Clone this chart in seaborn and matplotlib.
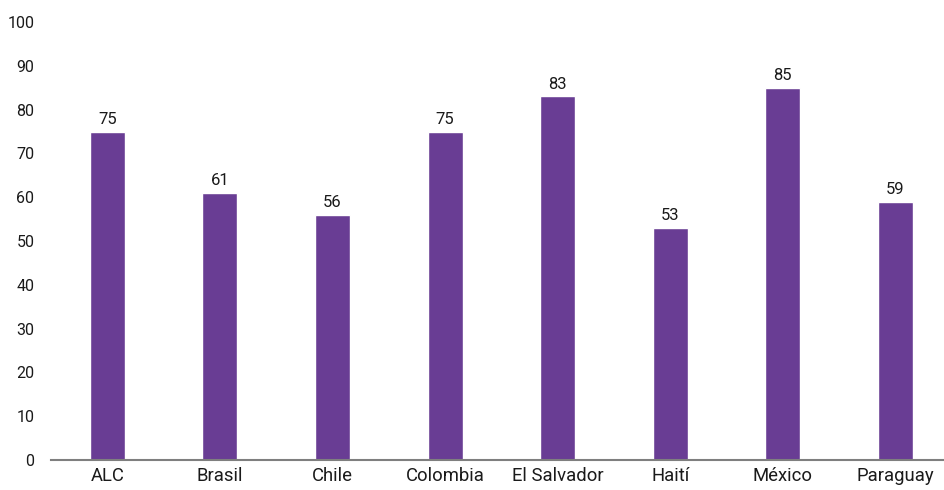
import matplotlib
matplotlib.use("Agg")
import matplotlib.pyplot as plt
import seaborn as sns
import pandas as pd

# ----------------------------
# Data
# ----------------------------
paises = ["ALC", "Brasil", "Chile", "Colombia", "El Salvador", "Haití", "México", "Paraguay"]
valores = [75, 61, 56, 75, 83, 53, 85, 59]

df = pd.DataFrame({"pais": paises, "valor": valores})

sns.set_style("white")
plt.rcParams["font.family"] = ["Roboto", "DejaVu Sans"]

fig = plt.figure(figsize=(9.45, 4.9), dpi=100)
ax = fig.add_axes([0.054, 0.0612, 0.946, 0.8939])

sns.barplot(data=df, x="pais", y="valor", color="#693d94", width=0.31,
            saturation=1, ax=ax)

# value labels above the bars
for p, v in zip(ax.patches, valores):
    ax.text(p.get_x() + p.get_width() / 2, v + 1.0, str(v),
            ha="center", va="bottom", fontsize=12, color="#1a1a1a")

ax.set_ylim(0, 100)
ax.set_xlim(-0.5, 7.44)
ax.set_yticks(range(0, 101, 10))
ax.set_xlabel("")
ax.set_ylabel("")

for s in ["top", "right", "left"]:
    ax.spines[s].set_visible(False)
ax.spines["bottom"].set_color("#7f7f7f")
ax.spines["bottom"].set_linewidth(1.5)

ax.tick_params(axis="y", length=0, pad=12, labelsize=11.5, labelcolor="#1a1a1a")
ax.tick_params(axis="x", length=0, pad=5, labelsize=13.3, labelcolor="#1a1a1a")

fig.savefig("out.png", dpi=100)
plt.close()
